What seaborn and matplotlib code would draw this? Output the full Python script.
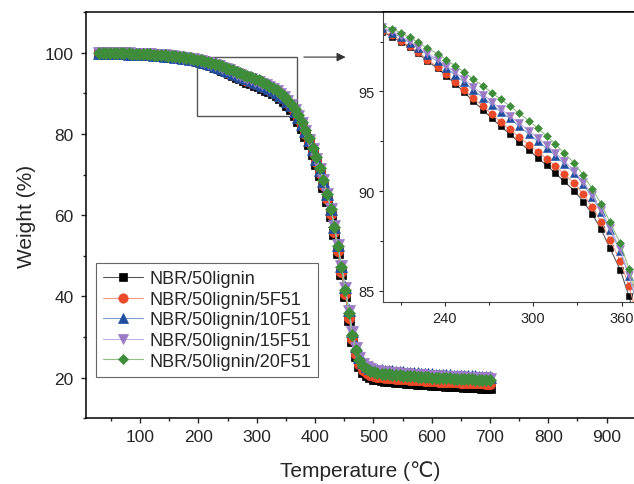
import numpy as np
import matplotlib
matplotlib.use("Agg")
import matplotlib.pyplot as plt
import matplotlib.patches as patches
from matplotlib.ticker import MultipleLocator
import seaborn as sns

# temperature grid (deg C)
temperature = [30, 36, 42, 49, 55, 61, 67, 73, 80, 86, 92, 98, 104, 111, 117, 123, 129, 135,
               142, 148, 154, 160, 166, 173, 179, 185, 191, 197, 204, 210, 216, 222, 228, 235,
               241, 247, 253, 259, 266, 272, 278, 284, 290, 297, 303, 309, 315, 321, 328, 334,
               340, 346, 352, 359, 365, 371, 377, 383, 390, 396, 402, 408, 414, 421, 427, 433,
               439, 445, 452, 458, 464, 470, 476, 483, 489, 495, 501, 507, 514, 520, 526, 532,
               538, 545, 551, 557, 563, 569, 576, 582, 588, 594, 600, 607, 613, 619, 625, 631,
               638, 644, 650, 656, 662, 669, 675, 681, 687, 693, 700]

w_nbr = [100.00, 100.00, 99.97, 99.94, 99.90, 99.88, 99.84, 99.81, 99.76, 99.73, 99.68, 99.65,
         99.60, 99.55, 99.49, 99.43, 99.36, 99.29, 99.21, 99.12, 99.01, 98.89, 98.76, 98.63,
         98.49, 98.34, 98.18, 97.99, 97.75, 97.49, 97.21, 96.90, 96.52, 96.16, 95.77, 95.38,
         94.97, 94.52, 94.07, 93.64, 93.24, 92.87, 92.47, 92.06, 91.67, 91.29, 90.90, 90.48,
         90.01, 89.47, 88.85, 88.09, 87.15, 86.06, 84.72, 83.15, 81.40, 79.50, 77.40, 75.10,
         72.70, 70.00, 67.00, 63.50, 59.70, 55.40, 50.70, 45.60, 40.10, 34.30, 29.10, 25.30,
         22.80, 21.40, 20.55, 20.05, 19.75, 19.55, 19.38, 19.27, 19.15, 19.06, 18.97, 18.89,
         18.81, 18.73, 18.66, 18.59, 18.52, 18.45, 18.38, 18.32, 18.26, 18.20, 18.14, 18.08,
         18.03, 17.98, 17.93, 17.88, 17.83, 17.78, 17.73, 17.69, 17.64, 17.60, 17.56, 17.52,
         17.47]

w_5f51 = [100.00, 100.00, 99.97, 99.94, 99.91, 99.88, 99.85, 99.81, 99.77, 99.73, 99.69, 99.65,
          99.61, 99.56, 99.50, 99.45, 99.38, 99.31, 99.23, 99.14, 99.04, 98.92, 98.79, 98.66,
          98.52, 98.37, 98.22, 98.04, 97.81, 97.54, 97.26, 96.96, 96.59, 96.23, 95.86, 95.48,
          95.09, 94.67, 94.25, 93.84, 93.46, 93.09, 92.72, 92.33, 91.97, 91.62, 91.26, 90.85,
          90.39, 89.84, 89.20, 88.47, 87.57, 86.51, 85.22, 83.65, 81.90, 80.00, 77.90, 75.60,
          73.10, 70.40, 67.40, 64.00, 60.20, 55.90, 51.20, 46.10, 40.60, 34.80, 29.60, 25.90,
          23.40, 22.00, 21.20, 20.77, 20.47, 20.27, 20.12, 20.02, 19.92, 19.84, 19.76, 19.69,
          19.62, 19.55, 19.49, 19.43, 19.37, 19.31, 19.25, 19.20, 19.15, 19.10, 19.05, 19.00,
          18.96, 18.92, 18.88, 18.84, 18.80, 18.76, 18.72, 18.69, 18.65, 18.62, 18.59, 18.56,
          18.52]

w_10f51 = [100.00, 100.00, 99.98, 99.95, 99.91, 99.89, 99.86, 99.83, 99.78, 99.75, 99.71, 99.68,
           99.63, 99.59, 99.54, 99.48, 99.42, 99.35, 99.28, 99.19, 99.10, 98.99, 98.87, 98.75,
           98.62, 98.49, 98.34, 98.17, 97.95, 97.72, 97.45, 97.16, 96.83, 96.51, 96.17, 95.83,
           95.47, 95.08, 94.69, 94.32, 93.98, 93.64, 93.27, 92.87, 92.50, 92.15, 91.78, 91.36,
           90.89, 90.33, 89.69, 88.96, 88.05, 87.00, 85.72, 84.20, 82.50, 80.60, 78.50, 76.20,
           73.80, 71.20, 68.40, 65.10, 61.40, 57.20, 52.60, 47.60, 42.20, 36.60, 31.50, 27.70,
           25.20, 23.75, 22.90, 22.45, 22.15, 21.95, 21.80, 21.70, 21.60, 21.52, 21.44, 21.37,
           21.30, 21.23, 21.17, 21.10, 21.04, 20.98, 20.92, 20.86, 20.81, 20.76, 20.71, 20.66,
           20.62, 20.58, 20.53, 20.49, 20.45, 20.41, 20.37, 20.34, 20.30, 20.27, 20.24, 20.21,
           20.17]

w_15f51 = [100.00, 100.00, 99.98, 99.95, 99.92, 99.90, 99.87, 99.84, 99.79, 99.76, 99.72, 99.69,
           99.65, 99.60, 99.55, 99.50, 99.43, 99.37, 99.30, 99.21, 99.12, 99.01, 98.90, 98.78,
           98.66, 98.52, 98.38, 98.21, 98.01, 97.78, 97.51, 97.23, 96.91, 96.60, 96.28, 95.95,
           95.61, 95.22, 94.84, 94.46, 94.12, 93.77, 93.42, 93.03, 92.66, 92.30, 91.92, 91.49,
           91.01, 90.44, 89.80, 89.07, 88.15, 87.09, 85.80, 84.30, 82.60, 80.70, 78.60, 76.30,
           73.90, 71.40, 68.60, 65.30, 61.60, 57.40, 52.70, 47.60, 42.10, 36.40, 31.20, 27.30,
           24.80, 23.35, 22.50, 22.05, 21.75, 21.55, 21.40, 21.30, 21.20, 21.12, 21.04, 20.97,
           20.89, 20.82, 20.76, 20.70, 20.64, 20.58, 20.52, 20.47, 20.42, 20.37, 20.32, 20.27,
           20.23, 20.19, 20.15, 20.11, 20.07, 20.03, 19.99, 19.96, 19.92, 19.89, 19.86, 19.83,
           19.79]

w_20f51 = [100.00, 100.00, 99.98, 99.95, 99.92, 99.90, 99.87, 99.84, 99.80, 99.77, 99.73, 99.70,
           99.66, 99.62, 99.57, 99.52, 99.46, 99.40, 99.33, 99.25, 99.16, 99.06, 98.95, 98.84,
           98.72, 98.59, 98.45, 98.29, 98.13, 97.94, 97.71, 97.46, 97.17, 96.89, 96.59, 96.28,
           95.97, 95.62, 95.27, 94.92, 94.60, 94.27, 93.92, 93.53, 93.15, 92.77, 92.36, 91.90,
           91.39, 90.79, 90.12, 89.37, 88.45, 87.39, 86.10, 84.60, 82.90, 81.00, 78.90, 76.60,
           74.20, 71.60, 68.70, 65.30, 61.50, 57.20, 52.40, 47.20, 41.60, 35.80, 30.60, 26.80,
           24.30, 22.90, 22.10, 21.65, 21.35, 21.15, 21.00, 20.90, 20.80, 20.72, 20.64, 20.57,
           20.50, 20.43, 20.37, 20.31, 20.25, 20.19, 20.13, 20.08, 20.03, 19.98, 19.93, 19.88,
           19.84, 19.80, 19.76, 19.72, 19.68, 19.64, 19.60, 19.57, 19.53, 19.50, 19.47, 19.44,
           19.40]

labels = ["NBR/50lignin", "NBR/50lignin/5F51", "NBR/50lignin/10F51",
          "NBR/50lignin/15F51", "NBR/50lignin/20F51"]
series = [w_nbr, w_5f51, w_10f51, w_15f51, w_20f51]
colors = ["#000000", "#ea4a2a", "#1f4f9e", "#9b7bc6", "#3f8d3a"]
line_colors = ["#555555", "#f09a85", "#7d9fd3", "#c4aedd", "#8fbf84"]
markers = ["s", "o", "^", "v", "D"]
ms_main = [7, 7.5, 8, 8, 6.2]
ms_inset = [4.6, 5.3, 5.9, 5.9, 4.3]

sns.set_style("ticks")
plt.rcParams["font.family"] = ["Liberation Sans", "DejaVu Sans"]

fig = plt.figure(figsize=(6.34, 4.85), dpi=100)
ax = fig.add_axes([0.1356, 0.1355, 0.8644, 0.8377])

for w, lab, c, lc, m, ms in zip(series, labels, colors, line_colors, markers, ms_main):
    sns.lineplot(x=temperature, y=w, ax=ax, color=lc, linewidth=0.8, marker=m,
                 markersize=ms, markerfacecolor=c, markeredgecolor=c,
                 markeredgewidth=0.5, label=lab, errorbar=None, sort=False)

ax.set_xlim(7, 947)
ax.set_ylim(10, 110)
ax.xaxis.set_major_locator(MultipleLocator(100))
ax.xaxis.set_minor_locator(MultipleLocator(50))
ax.yaxis.set_major_locator(MultipleLocator(20))
ax.yaxis.set_minor_locator(MultipleLocator(10))
ax.tick_params(which="major", length=3.5, width=1, labelsize=12.5)
ax.tick_params(which="minor", length=2.2, width=1)
ax.tick_params(axis="x", pad=4.5)
ax.tick_params(axis="y", pad=5.5)
ax.spines["right"].set_visible(False)
for s in ["left", "bottom", "top"]:
    ax.spines[s].set_linewidth(1.1)
    ax.spines[s].set_color("black")
ax.set_xlabel("Temperature (℃)", fontsize=15, labelpad=11)
ax.set_ylabel("Weight (%)", fontsize=15, labelpad=6)

# zoom window and arrow
rect = patches.Rectangle((198, 84.4), 170.4, 14.5, fill=False, edgecolor="#555555", lw=1)
ax.add_patch(rect)
ax.annotate("", xy=(457, 98.9), xytext=(376, 98.9),
            arrowprops=dict(arrowstyle="-|>", color="#333333", lw=0.8, mutation_scale=13))

handles, labs = ax.get_legend_handles_labels()
leg = ax.legend(handles, labs, loc="upper left", bbox_to_anchor=(96 / 634, 1 - 264 / 485),
                bbox_transform=fig.transFigure, fontsize=13, frameon=True, fancybox=False,
                framealpha=1, edgecolor="#666666", borderpad=0.4, labelspacing=0.2,
                handlelength=2.2, handletextpad=0.35, borderaxespad=0, markerscale=0.9)
leg.get_frame().set_linewidth(0.8)

# inset
axin = fig.add_axes([0.6041, 0.3746, 0.3959, 0.5986])
axin.set_facecolor("white")
for w, c, lc, m, ms in zip(series, colors, line_colors, markers, ms_inset):
    sns.lineplot(x=temperature, y=w, ax=axin, color=lc, linewidth=0.8, marker=m,
                 markersize=ms, markerfacecolor=c, markeredgecolor=c,
                 markeredgewidth=0.4, legend=False, errorbar=None, sort=False)
axin.set_xlim(198, 368.4)
axin.set_ylim(84.42, 98.98)
axin.xaxis.set_major_locator(MultipleLocator(60))
axin.xaxis.set_minor_locator(MultipleLocator(30))
axin.yaxis.set_major_locator(MultipleLocator(5))
axin.yaxis.set_minor_locator(MultipleLocator(2.5))
axin.tick_params(which="major", length=3, width=0.8, labelsize=10.5, pad=3)
axin.tick_params(which="minor", length=2, width=0.8)
axin.spines["right"].set_visible(False)
axin.spines["left"].set_color("#444444")
axin.spines["bottom"].set_color("#444444")
axin.spines["top"].set_color("black")
axin.spines["top"].set_linewidth(1.1)
axin.set_xlabel("")
axin.set_ylabel("")

fig.savefig("out.png", dpi=100)
